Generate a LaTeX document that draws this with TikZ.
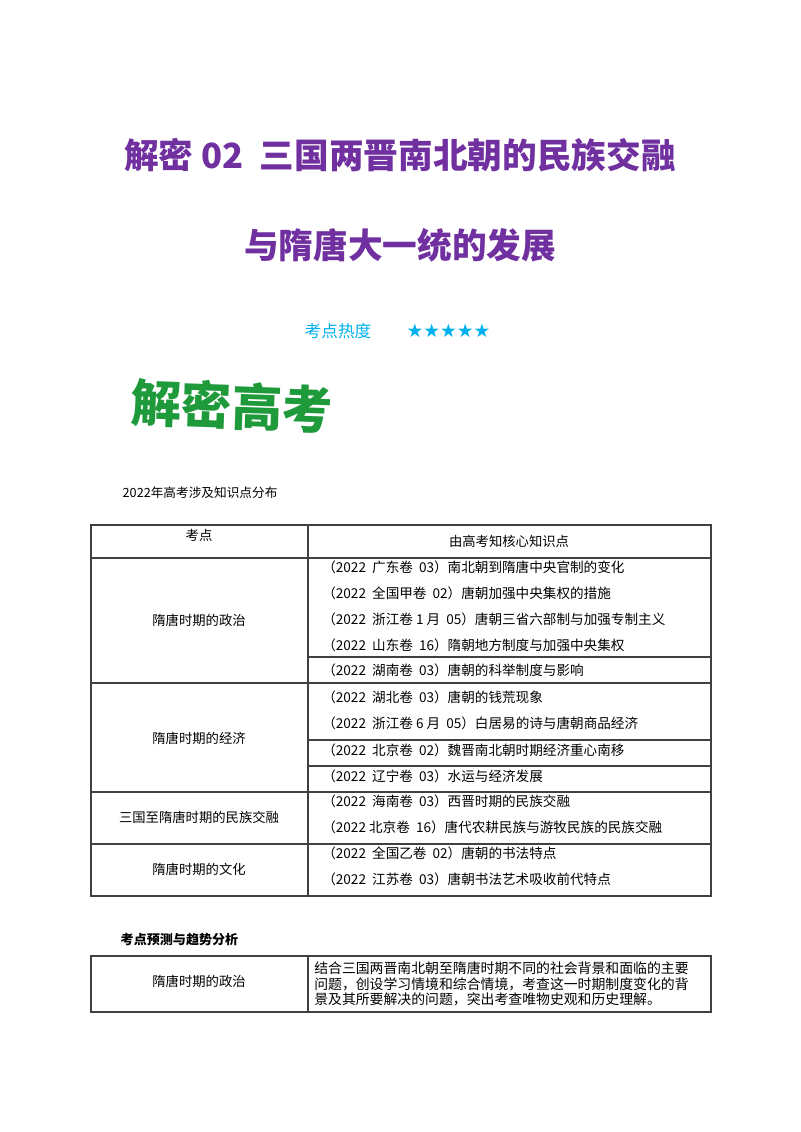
\documentclass[tikz,border=0pt]{standalone}
\usepackage{fontspec}
\setmainfont{Noto Sans CJK SC}
\newfontfamily\sym{DejaVu Sans}
\definecolor{ttl}{HTML}{7030A0}
\definecolor{cy}{HTML}{00B0F0}
\definecolor{gr}{HTML}{1E9A3A}
\begin{document}
\begin{tikzpicture}[x=0.75pt,y=-0.75pt,
  cell/.style={font=\fontsize{10.2}{11}\selectfont,anchor=west,inner sep=0},
  mid/.style={font=\fontsize{10}{11}\selectfont,inner sep=0},
  grid/.style={draw=black!75,line width=0.8pt}]
\useasboundingbox (0,0) rectangle (800,1132);
\node[text=ttl,font=\fontsize{26}{30}\selectfont\bfseries] (t1) at (400,155) {解密 02 \ 三国两晋南北朝的民族交融};
\node[text=ttl,font=\fontsize{26}{30}\selectfont\bfseries] (t2) at (400,245) {与隋唐大一统的发展};
\node[text=cy,font=\fontsize{12.5}{14}\selectfont,anchor=west] (hot) at (300,331) {考点热度};
\node[text=cy,font=\fontsize{14}{14}\selectfont\sym,anchor=west] (stars) at (402,331) {★★★★★};
\node[text=gr,font=\fontsize{38}{40}\selectfont\bfseries,anchor=west,rotate=-2] (logo) at (126,402) {解密高考};
\node[font=\fontsize{9.5}{11}\selectfont,anchor=west] (s1) at (118,493) {2022年高考涉及知识点分布};
% table 1
\draw[grid] (91,525) rectangle (711,896);
\draw[grid] (308,525) -- (308,896);
\foreach \y in {558,683,792,844} \draw[grid] (91,\y) -- (711,\y);
\foreach \y in {657,740,766} \draw[grid] (308,\y) -- (711,\y);
\node[mid] (h1) at (199,535) {考点};
\node[mid] (h2) at (509,541) {由高考知核心知识点};
\node[mid] (r1) at (199,620) {隋唐时期的政治};
\node[mid] (r2) at (199,738) {隋唐时期的经济};
\node[mid] (r3) at (199,817) {三国至隋唐时期的民族交融};
\node[mid] (r4) at (199,869) {隋唐时期的文化};
\node[cell] (a1) at (322,567) {（2022 \ 广东卷 \ 03）南北朝到隋唐中央官制的变化};
\node[cell] (a2) at (322,593) {（2022 \ 全国甲卷 \ 02）唐朝加强中央集权的措施};
\node[cell] (a3) at (322,619) {（2022 \ 浙江卷 1 月 \ 05）唐朝三省六部制与加强专制主义};
\node[cell] (a4) at (322,645) {（2022 \ 山东卷 \ 16）隋朝地方制度与加强中央集权};
\node[cell] (a5) at (322,670) {（2022 \ 湖南卷 \ 03）唐朝的科举制度与影响};
\node[cell] (b1) at (322,697) {（2022 \ 湖北卷 \ 03）唐朝的钱荒现象};
\node[cell] (b2) at (322,723) {（2022 \ 浙江卷 6 月 \ 05）白居易的诗与唐朝商品经济};
\node[cell] (b3) at (322,750) {（2022 \ 北京卷 \ 02）魏晋南北朝时期经济重心南移};
\node[cell] (b4) at (322,776) {（2022 \ 辽宁卷 \ 03）水运与经济发展};
\node[cell] (c1) at (322,801) {（2022 \ 海南卷 \ 03）西晋时期的民族交融};
\node[cell] (c2) at (322,827) {（2022 北京卷 \ 16）唐代农耕民族与游牧民族的民族交融};
\node[cell] (d1) at (322,853) {（2022 \ 全国乙卷 \ 02）唐朝的书法特点};
\node[cell] (d2) at (322,879) {（2022 \ 江苏卷 \ 03）唐朝书法艺术吸收前代特点};
% table 2
\node[font=\fontsize{9.8}{11}\selectfont\bfseries,anchor=west] (s2) at (116,940) {考点预测与趋势分析};
\draw[grid] (91,956) rectangle (711,1012);
\draw[grid] (308,956) -- (308,1012);
\node[mid] (e1) at (199,981) {隋唐时期的政治};
\node[cell,align=left,font=\fontsize{10.4}{11.6}\selectfont] (e2) at (314,984) {结合三国两晋南北朝至隋唐时期不同的社会背景和面临的主要\\问题，创设学习情境和综合情境，考查这一时期制度变化的背\\景及其所要解决的问题，突出考查唯物史观和历史理解。};
\end{tikzpicture}
\end{document}
